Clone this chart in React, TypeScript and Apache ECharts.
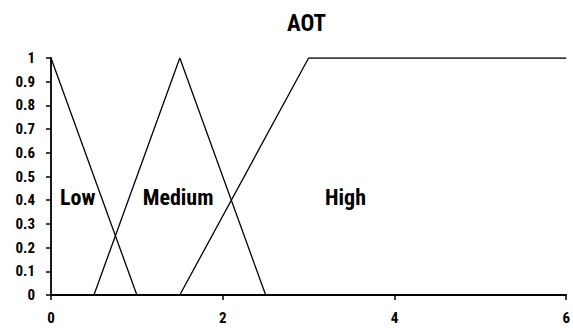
import React, { useEffect, useRef } from "react";
import * as echarts from "echarts";

const lowPoints: [number, number][] = [[0, 1], [1, 0]];
const mediumPoints: [number, number][] = [[0.5, 0], [1.5, 1], [2.5, 0]];
const highPoints: [number, number][] = [[1.5, 0], [3, 1], [6, 1]];
const setLabels: { name: string; x: number; y: number }[] = [
  { name: "Low", x: 0.31, y: 0.41 },
  { name: "Medium", x: 1.48, y: 0.41 },
  { name: "High", x: 3.43, y: 0.41 },
];
const xTicks = [0, 2, 4, 6];
const yTicks = [0, 0.1, 0.2, 0.3, 0.4, 0.5, 0.6, 0.7, 0.8, 0.9, 1];

const FONT = "'Roboto Condensed', 'Open Sans Condensed', sans-serif";

export default function App() {
  const ref = useRef<HTMLDivElement>(null);
  useEffect(() => {
    if (!ref.current) return;
    const chart = echarts.init(ref.current, undefined, { renderer: "svg" });
    const lineStyle = { color: "#000", width: 1.3 };
    chart.setOption({
      animation: false,
      backgroundColor: "#fff",
      title: {
        text: "AOT",
        left: 282,
        top: 7,
        textStyle: { fontFamily: FONT, fontWeight: "bold", fontSize: 23, color: "#000" },
      },
      grid: { left: 51, right: 2, top: 58, bottom: 34 },
      xAxis: {
        type: "value",
        min: 0,
        max: 6,
        interval: 2,
        splitLine: { show: false },
        axisLine: { show: true, onZero: false, lineStyle: { color: "#000", width: 1.8 } },
        axisTick: { show: true, length: 5, lineStyle: { color: "#000", width: 1.5 } },
        axisLabel: {
          color: "#000",
          fontFamily: FONT,
          fontWeight: "bold",
          fontSize: 15,
          margin: 15,
          formatter: (v: number) => (xTicks.includes(v) ? String(v) : ""),
        },
      },
      yAxis: {
        type: "value",
        min: 0,
        max: 1,
        interval: 0.1,
        splitLine: { show: false },
        axisLine: { show: true, lineStyle: { color: "#000", width: 1.8 } },
        axisTick: { show: true, length: 5, lineStyle: { color: "#000", width: 1.5 } },
        axisLabel: {
          color: "#000",
          fontFamily: FONT,
          fontWeight: "bold",
          fontSize: 15,
          margin: 16,
          formatter: (v: number) => {
            const t = yTicks.find((y) => Math.abs(y - v) < 1e-6);
            return t === undefined ? "" : String(Math.round(t * 10) / 10);
          },
        },
      },
      series: [
        { type: "line", data: lowPoints, symbol: "none", lineStyle, silent: true },
        { type: "line", data: mediumPoints, symbol: "none", lineStyle, silent: true },
        { type: "line", data: highPoints, symbol: "none", lineStyle, silent: true },
        {
          type: "scatter",
          symbolSize: 0,
          itemStyle: { opacity: 1, color: "#000" },
          data: setLabels.map((l) => ({ value: [l.x, l.y], name: l.name })),
          label: {
            show: true,
            position: "inside",
            formatter: (p: any) => p.name,
            color: "#000",
            opacity: 1,
            textBorderWidth: 0,
            fontFamily: FONT,
            fontWeight: "bold",
            fontSize: 22,
          },
          silent: true,
        },
      ],
    });
    return () => chart.dispose();
  }, []);
  return (
    <div
      ref={ref}
      style={{ position: "fixed", left: 0, top: 0, width: 573, height: 329 }}
    />
  );
}
